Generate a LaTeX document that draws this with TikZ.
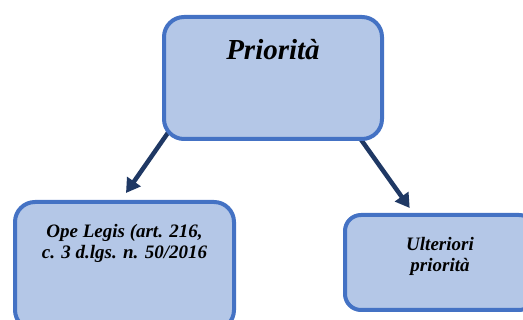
\documentclass[tikz,border=0pt]{standalone}
\usepackage{fontspec}
\setmainfont{Liberation Serif}
\usetikzlibrary{positioning,arrows.meta,calc,backgrounds}
\definecolor{boxfill}{HTML}{B4C7E7}
\definecolor{boxline}{HTML}{4472C4}
\definecolor{arrowcol}{HTML}{1F3864}
\begin{document}
\begin{tikzpicture}[x=1pt, y=1pt,
        box/.style = {draw=boxline, fill=boxfill, line width=4pt, rounded corners=20pt, inner sep=0pt},
        title/.style = {inner sep=0pt, font=\fontsize{29}{32}\selectfont\bfseries\itshape},
        txt/.style = {inner sep=0pt, align=center, font=\fontsize{19}{21}\selectfont\bfseries\itshape},
        link/.style = {draw=arrowcol, line width=4.5pt, -{Triangle[length=14pt,width=16pt]}}
    ]
    \useasboundingbox (0,0) rectangle (523,320);
    % boxes
    \node[box, minimum width=218pt, minimum height=122pt] (prio) at (273,242) {};
    \node[box, minimum width=219pt, minimum height=128pt] (ope) at (124.5,54) {};
    \node[box, minimum width=190pt, minimum height=95pt, rounded corners=16pt] (ult) at (440,57.5) {};
    % texts
    \node[title, below=24pt of prio.north] (priot) {Priorità};
    \node[txt, below=24pt of ope.north] (opet) {Ope Legis (art. 216,\\c. 3 d.lgs. n. 50/2016};
    \node[txt, below=24pt of ult.north] (ultt) {Ulteriori\\priorità};
    % arrows, behind the boxes
    \begin{scope}[on background layer]
        \draw[link] ($(prio.south west)+(6.5,9)$) -- ($(ope.north)+(1.5,7)$);
        \draw[link] ($(prio.south east)+(-27,7)$) -- ($(ult.north west)+(66.7,5)$);
    \end{scope}
\end{tikzpicture}
\end{document}
